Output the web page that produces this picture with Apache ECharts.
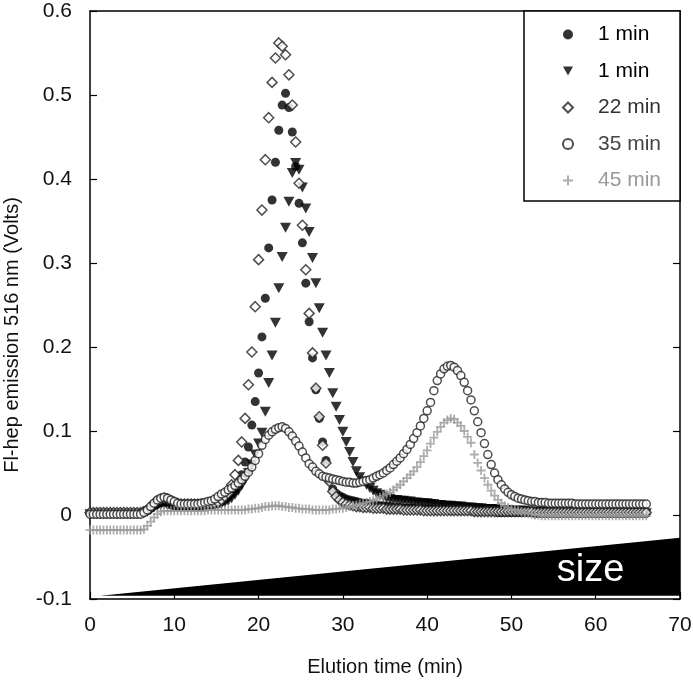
<!DOCTYPE html>
<html>
<head>
<meta charset="utf-8">
<script src="https://cdn.jsdelivr.net/npm/echarts@6/dist/echarts.min.js"></script>
<style>html,body{margin:0;padding:0;background:#fff}#chart{width:693px;height:684px}</style>
</head>
<body>
<div id="chart"></div>
<script>
// Elution time (min), sampled every 0.4 min
const time = [
0,0.4,0.8,1.2,1.6,2,2.4,2.8,3.2,3.6,
4,4.4,4.8,5.2,5.6,6,6.4,6.8,7.2,7.6,
8,8.4,8.8,9.2,9.6,10,10.4,10.8,11.2,11.6,
12,12.4,12.8,13.2,13.6,14,14.4,14.8,15.2,15.6,
16,16.4,16.8,17.2,17.6,18,18.4,18.8,19.2,19.6,
20,20.4,20.8,21.2,21.6,22,22.4,22.8,23.2,23.6,
24,24.4,24.8,25.2,25.6,26,26.4,26.8,27.2,27.6,
28,28.4,28.8,29.2,29.6,30,30.4,30.8,31.2,31.6,
32,32.4,32.8,33.2,33.6,34,34.4,34.8,35.2,35.6,
36,36.4,36.8,37.2,37.6,38,38.4,38.8,39.2,39.6,
40,40.4,40.8,41.2,41.6,42,42.4,42.8,43.2,43.6,
44,44.4,44.8,45.2,45.6,46,46.4,46.8,47.2,47.6,
48,48.4,48.8,49.2,49.6,50,50.4,50.8,51.2,51.6,
52,52.4,52.8,53.2,53.6,54,54.4,54.8,55.2,55.6,
56,56.4,56.8,57.2,57.6,58,58.4,58.8,59.2,59.6,
60,60.4,60.8,61.2,61.6,62,62.4,62.8,63.2,63.6,
64,64.4,64.8,65.2,65.6,66];

// 1 min (filled circles)
const min1a = [
0.002,0.002,0.002,0.002,0.002,0.002,0.002,0.002,0.002,0.002,
0.002,0.002,0.002,0.002,0.002,0.002,0.003,0.005,0.008,0.011,
0.013,0.015,0.015,0.014,0.012,0.011,0.010,0.010,0.010,0.010,
0.010,0.010,0.010,0.010,0.011,0.011,0.012,0.013,0.014,0.016,
0.019,0.022,0.026,0.031,0.038,0.048,0.063,0.081,0.107,0.135,
0.169,0.212,0.258,0.318,0.375,0.420,0.458,0.488,0.502,0.485,
0.456,0.415,0.371,0.324,0.276,0.230,0.187,0.149,0.115,0.087,
0.065,0.042,0.031,0.026,0.023,0.021,0.019,0.018,0.017,0.016,
0.015,0.014,0.014,0.013,0.012,0.012,0.011,0.011,0.010,0.010,
0.009,0.009,0.009,0.008,0.008,0.008,0.008,0.007,0.007,0.007,
0.007,0.007,0.006,0.006,0.006,0.006,0.006,0.005,0.005,0.005,
0.005,0.005,0.005,0.005,0.004,0.004,0.004,0.004,0.004,0.004,
0.004,0.003,0.003,0.003,0.003,0.003,0.003,0.003,0.003,0.003,
0.003,0.003,0.002,0.002,0.002,0.002,0.002,0.002,0.002,0.002,
0.002,0.002,0.002,0.002,0.002,0.002,0.002,0.002,0.002,0.002,
0.002,0.002,0.002,0.002,0.002,0.002,0.002,0.002,0.002,0.002,
0.002,0.002,0.002,0.002,0.002,0.002];

// 1 min (filled down-triangles)
const min1b = [
0.001,0.001,0.001,0.001,0.001,0.001,0.001,0.001,0.001,0.001,
0.001,0.001,0.001,0.001,0.001,0.001,0.002,0.004,0.006,0.009,
0.011,0.012,0.013,0.012,0.011,0.010,0.009,0.009,0.009,0.009,
0.009,0.009,0.009,0.009,0.009,0.010,0.010,0.011,0.012,0.013,
0.015,0.017,0.020,0.024,0.029,0.035,0.042,0.050,0.060,0.072,
0.085,0.098,0.123,0.157,0.190,0.229,0.270,0.307,0.342,0.373,
0.407,0.419,0.411,0.390,0.365,0.337,0.306,0.276,0.246,0.217,
0.190,0.169,0.145,0.129,0.113,0.099,0.087,0.075,0.063,0.052,
0.045,0.040,0.036,0.032,0.029,0.026,0.024,0.022,0.020,0.019,
0.018,0.018,0.017,0.017,0.016,0.016,0.015,0.015,0.014,0.014,
0.014,0.013,0.013,0.012,0.012,0.011,0.011,0.011,0.010,0.010,
0.010,0.009,0.009,0.009,0.008,0.008,0.008,0.007,0.007,0.007,
0.007,0.006,0.006,0.006,0.006,0.005,0.005,0.005,0.005,0.005,
0.004,0.004,0.004,0.004,0.004,0.004,0.003,0.003,0.003,0.003,
0.003,0.003,0.003,0.003,0.003,0.002,0.002,0.002,0.002,0.002,
0.002,0.002,0.002,0.002,0.002,0.002,0.002,0.002,0.002,0.002,
0.002,0.002,0.002,0.002,0.002,0.002];

// 22 min (open diamonds)
const min22 = [
0.003,0.003,0.003,0.003,0.003,0.003,0.003,0.003,0.003,0.003,
0.003,0.003,0.003,0.003,0.003,0.003,0.004,0.006,0.010,0.014,
0.017,0.019,0.020,0.019,0.017,0.015,0.014,0.013,0.013,0.013,
0.013,0.013,0.013,0.013,0.013,0.013,0.013,0.014,0.015,0.018,
0.022,0.026,0.036,0.048,0.065,0.087,0.115,0.155,0.194,0.248,
0.304,0.363,0.423,0.473,0.515,0.544,0.562,0.558,0.548,0.524,
0.488,0.444,0.395,0.345,0.292,0.240,0.193,0.151,0.117,0.083,
0.062,0.040,0.028,0.022,0.018,0.015,0.013,0.012,0.011,0.010,
0.010,0.009,0.009,0.009,0.008,0.008,0.008,0.008,0.007,0.007,
0.007,0.007,0.007,0.006,0.006,0.006,0.006,0.006,0.006,0.005,
0.005,0.005,0.005,0.005,0.005,0.005,0.005,0.005,0.005,0.005,
0.005,0.005,0.005,0.005,0.004,0.004,0.004,0.004,0.004,0.004,
0.004,0.004,0.004,0.004,0.004,0.004,0.004,0.004,0.004,0.004,
0.004,0.004,0.003,0.003,0.003,0.003,0.003,0.003,0.003,0.003,
0.003,0.003,0.003,0.003,0.003,0.003,0.003,0.003,0.003,0.003,
0.003,0.003,0.003,0.003,0.003,0.003,0.003,0.003,0.003,0.003,
0.003,0.003,0.003,0.003,0.003,0.003];

// 35 min (open circles)
const min35 = [
0.001,0.001,0.001,0.001,0.001,0.001,0.001,0.001,0.001,0.001,
0.001,0.001,0.001,0.001,0.001,0.001,0.003,0.006,0.010,0.014,
0.018,0.020,0.021,0.020,0.018,0.016,0.014,0.013,0.013,0.013,
0.013,0.013,0.013,0.014,0.015,0.016,0.017,0.019,0.022,0.025,
0.027,0.030,0.032,0.035,0.038,0.042,0.046,0.051,0.057,0.065,
0.073,0.083,0.090,0.095,0.099,0.102,0.104,0.105,0.103,0.099,
0.094,0.088,0.082,0.075,0.068,0.061,0.057,0.052,0.049,0.046,
0.045,0.044,0.043,0.042,0.041,0.040,0.039,0.039,0.038,0.038,
0.039,0.040,0.041,0.042,0.044,0.046,0.048,0.050,0.053,0.056,
0.060,0.064,0.068,0.073,0.078,0.084,0.091,0.098,0.106,0.115,
0.124,0.134,0.148,0.160,0.168,0.174,0.177,0.178,0.176,0.172,
0.166,0.158,0.148,0.137,0.124,0.111,0.098,0.085,0.072,0.060,
0.050,0.042,0.036,0.031,0.027,0.024,0.022,0.020,0.019,0.018,
0.017,0.016,0.016,0.015,0.015,0.015,0.014,0.014,0.014,0.014,
0.014,0.014,0.014,0.014,0.013,0.013,0.013,0.013,0.013,0.013,
0.013,0.013,0.013,0.013,0.013,0.013,0.013,0.013,0.013,0.013,
0.013,0.013,0.013,0.013,0.013,0.013];

// 45 min (gray plus)
const min45 = [
-0.018,-0.018,-0.018,-0.018,-0.018,-0.018,-0.018,-0.018,-0.018,-0.018,
-0.018,-0.018,-0.018,-0.018,-0.018,-0.018,-0.017,-0.013,-0.008,-0.003,
0.001,0.004,0.005,0.005,0.005,0.005,0.005,0.005,0.005,0.005,
0.005,0.005,0.005,0.005,0.005,0.006,0.006,0.006,0.006,0.006,
0.006,0.006,0.006,0.006,0.006,0.006,0.006,0.007,0.007,0.008,
0.008,0.009,0.010,0.010,0.011,0.011,0.011,0.010,0.010,0.009,
0.009,0.008,0.008,0.007,0.007,0.007,0.006,0.006,0.006,0.006,
0.006,0.006,0.007,0.007,0.008,0.008,0.009,0.010,0.011,0.012,
0.013,0.014,0.015,0.016,0.017,0.019,0.021,0.023,0.025,0.027,
0.030,0.033,0.036,0.040,0.044,0.048,0.052,0.057,0.063,0.070,
0.077,0.085,0.092,0.099,0.105,0.110,0.113,0.115,0.114,0.110,
0.106,0.100,0.093,0.086,0.072,0.062,0.053,0.044,0.036,0.029,
0.023,0.018,0.014,0.011,0.009,0.007,0.006,0.005,0.004,0.003,
0.002,0.001,0.000,0.000,-0.001,-0.001,-0.001,-0.001,-0.001,-0.001,
-0.001,-0.001,-0.001,-0.001,-0.001,-0.001,-0.001,-0.001,-0.001,-0.001,
-0.001,-0.001,-0.001,-0.001,-0.001,-0.001,-0.001,-0.001,-0.001,-0.001,
-0.001,-0.001,-0.001,-0.001,-0.001,-0.001];

const seriesNames = ['1 min', '1 min ', '22 min', '35 min', '45 min'];
const legendColors = ['#000', '#000', '#333', '#444', '#999'];
const xTicks = [0, 10, 20, 30, 40, 50, 60, 70];
const yTickLabels = ['-0.1', '0', '0.1', '0.2', '0.3', '0.4', '0.5', '0.6'];
// "size" wedge (data coords) and its label position
const wedgeX = [1.2, 70, 70];
const wedgeY = [-0.096, -0.096, -0.027];
const sizeLabel = [59.4, -0.066];

const pairs = ys => time.map((t, i) => [t, ys[i]]);
const FONT = 'Liberation Sans';
const plusPath = 'path://M0,4H10V6H0ZM4,0H6V10H4Z';
const downTri = 'path://M0,0L10,0L5,9Z';

const chart = echarts.init(document.getElementById('chart'), null, {renderer: 'canvas'});
const axisLine = {show: true, onZero: false, lineStyle: {color: '#000', width: 1.5}};
const option = {
  animation: false,
  backgroundColor: '#fff',
  textStyle: {fontFamily: FONT},
  grid: {left: 90, right: 13, top: 11, bottom: 85, containLabel: false, outerBoundsMode: 'none'},
  xAxis: [{
    type: 'value', min: 0, max: 70, interval: 10,
    axisLine: axisLine,
    axisTick: {show: true, inside: true, length: 7, lineStyle: {color: '#000', width: 1.2}},
    axisLabel: {fontSize: 21, color: '#111', margin: 16, fontFamily: FONT,
      formatter: v => String(xTicks[Math.round(v / 10)])},
    splitLine: {show: false},
    name: 'Elution time (min)', nameLocation: 'middle', nameGap: 58,
    nameTextStyle: {fontSize: 20, color: '#111', fontFamily: FONT}
  }, {
    type: 'value', min: 0, max: 70, interval: 10, position: 'top',
    axisLine: axisLine, axisTick: {show: false}, axisLabel: {show: false}, splitLine: {show: false}
  }],
  yAxis: [{
    type: 'value', min: -0.1, max: 0.6, interval: 0.1,
    axisLine: axisLine,
    axisTick: {show: true, inside: true, length: 7, lineStyle: {color: '#000', width: 1.2}},
    axisLabel: {fontSize: 21, color: '#111', margin: 18, fontFamily: FONT,
      formatter: v => yTickLabels[Math.round((v + 0.1) * 10)]},
    splitLine: {show: false},
    name: 'Fl-hep emission 516 nm (Volts)', nameLocation: 'middle', nameGap: 68,
    nameTextStyle: {fontSize: 20, color: '#111', fontFamily: FONT, padding: [0, 60, 0, 0]}
  }, {
    type: 'value', min: -0.1, max: 0.6, interval: 0.1, position: 'right',
    axisLine: axisLine,
    axisTick: {show: true, inside: true, length: 7, lineStyle: {color: '#000', width: 1.2}},
    axisLabel: {show: false}, splitLine: {show: false}
  }],
  legend: {
    orient: 'vertical', left: 524, top: 11,
    backgroundColor: '#fff', borderColor: '#000', borderWidth: 1.5, borderRadius: 0,
    padding: [13, 19, 10, 38], itemGap: 15.5, itemWidth: 10, itemHeight: 10,
    textStyle: {fontSize: 21, fontFamily: FONT, padding: [0, 0, 0, 20]},
    data: seriesNames.map((n, i) => {
      const d = {name: n, textStyle: {color: legendColors[i]}};
      if (i === 1) d.icon = downTri;
      return d;
    })
  },
  series: [
    {
      type: 'custom', silent: true, z: 1, clip: true,
      data: [[wedgeX[0], wedgeY[0]]],
      renderItem: function (params, api) {
        const pts = wedgeX.map((x, i) => api.coord([x, wedgeY[i]]));
        const c = api.coord(sizeLabel);
        return {type: 'group', children: [
          {type: 'polygon', shape: {points: pts}, style: {fill: '#000'}},
          {type: 'text', style: {text: 'size', x: c[0], y: c[1], fill: '#fff',
            font: '38px "Liberation Sans"', align: 'center', verticalAlign: 'middle'}}
        ]};
      }
    },
    {name: seriesNames[0], type: 'scatter', data: pairs(min1a), symbol: 'circle', symbolSize: 9,
      itemStyle: {color: '#000'}, z: 2},
    {name: seriesNames[1], type: 'scatter', data: pairs(min1b), symbol: downTri,
      symbolSize: [11, 10], itemStyle: {color: '#000'}, z: 3},
    {name: seriesNames[2], type: 'scatter', data: pairs(min22), symbol: 'diamond', symbolSize: 10,
      itemStyle: {color: '#fff', borderColor: '#222', borderWidth: 1.5}, z: 4},
    {name: seriesNames[3], type: 'scatter', data: pairs(min35), symbol: 'circle', symbolSize: 8,
      itemStyle: {color: '#fff', borderColor: '#222', borderWidth: 1.5}, z: 5},
    {name: seriesNames[4], type: 'scatter', data: pairs(min45), symbol: plusPath, symbolSize: 9,
      itemStyle: {color: '#999'}, z: 6}
  ]
};
chart.setOption(option);
</script>
</body>
</html>
